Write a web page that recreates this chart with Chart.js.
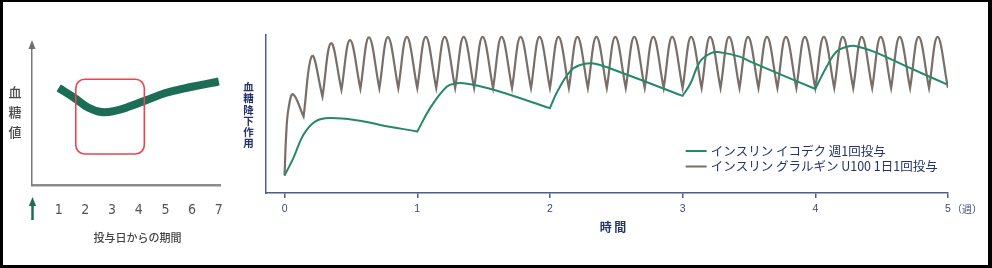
<!DOCTYPE html>
<html lang="ja">
<head>
<meta charset="utf-8">
<script src="https://cdn.jsdelivr.net/npm/chart.js@4.4.1/dist/chart.umd.min.js"></script>
<style>
  html, body { margin: 0; padding: 0; background: #fff; }
  #wrap { position: relative; width: 992px; height: 268px; overflow: hidden; background: #fff; }
  #left { position: absolute; left: 0; top: 0; }
  #right { position: absolute; left: 240px; top: 0; }
  #frame {
    position: absolute; left: 0; top: 0; width: 992px; height: 268px;
    box-sizing: border-box; border: solid #000; border-width: 2px 4px 3px 3px;
    pointer-events: none;
  }
</style>
</head>
<body>
<div id="wrap">
  <canvas id="left" width="240" height="268"></canvas>
  <canvas id="right" width="752" height="268"></canvas>
  <div id="frame"></div>
</div>
<script>
// left panel: concept sketch, days after dosing
const sketchDays = [1.0, 1.6, 2.1, 2.6, 3.1, 3.7, 4.3, 5.0, 5.9, 7.0];
const sketchGlucose = [69.3, 62.1, 55.4, 52.1, 52.9, 56.4, 60.7, 65.7, 69.8, 73.9];
const sketchTicks = [1, 2, 3, 4, 5, 6, 7];
const boxDays = [1.64, 4.21];
const boxGlucose = [22.1, 75.5];

// right panel: glucose lowering effect over weeks
const weekTicks = [0, 1, 2, 3, 4, 5];
const icodecWeeks = [0, 0.066, 0.142, 0.23, 0.34, 0.57, 0.72, 1,
  1.097, 1.222, 1.3, 1.35, 1.45, 1.62, 2,
  2.056, 2.15, 2.227, 2.33, 2.55, 3,
  3.06, 3.13, 3.21, 3.28, 3.43, 3.51, 4,
  4.086, 4.16, 4.24, 4.3, 4.44, 4.69, 5];
const icodecEffect = [11.1, 22.1, 36.8, 45.2, 47.4, 45.7, 43.1, 38.9,
  53.7, 67.3, 69.5, 69.5, 68.0, 64.2, 53.7,
  64.2, 76.8, 81.0, 81.9, 75.8, 61.5,
  69.5, 83.1, 88.4, 89.1, 86.3, 83.1, 65.9,
  80.0, 89.5, 92.6, 93.1, 89.5, 80.0, 68.4];
const icodecDoseWeeks = [1, 2, 3, 4];

// glargine: start-up rise (days), then one peak and one trough per daily dose
const glargineRiseDays = [0, 0.084, 0.21];
const glargineRiseEffect = [11.1, 36.8, 53.7];
const glarginePeakDelay = 0.45; // days after each dose
const glarginePeaks = [62.5, 86.7, 94.8, 96.8, 98.5, 98.7, 98.8,
  98.8, 98.8, 98.8, 98.8, 98.8, 98.8, 98.8,
  98.8, 98.8, 98.8, 98.8, 98.8, 98.8, 98.8,
  98.8, 98.8, 98.8, 98.8, 98.8, 98.8, 98.8,
  98.8, 98.8, 98.8, 98.8, 98.8, 98.8, 98.8];
const glargineTroughs = [48.4, 61.0, 65.3, 65.9, 66.2, 66.3, 66.4,
  66.4, 66.4, 66.4, 66.4, 66.4, 66.4, 66.4,
  66.4, 66.4, 66.4, 66.4, 66.4, 66.4, 66.4,
  66.4, 66.4, 66.4, 66.4, 66.4, 66.4, 66.4,
  66.4, 66.4, 66.4, 66.4, 66.4, 66.4, 66.4];

const CJK = '"Noto Sans CJK JP", "Noto Sans", sans-serif';
const NAVY = '#25336b';
const AXIS_BLUE = '#4e5d91';

// icodec: weekly dose points are doubled so the spline turns sharply there
const icodecData = [];
icodecWeeks.forEach((w, i) => {
  const p = { x: w, y: icodecEffect[i] };
  icodecData.push(p);
  if (icodecDoseWeeks.includes(w)) icodecData.push({ ...p });
});

const glargineData = glargineRiseDays.map((d, i) => ({ x: d / 7, y: glargineRiseEffect[i] }));
glarginePeaks.forEach((peak, k) => {
  glargineData.push({ x: (k + glarginePeakDelay) / 7, y: peak });
  const trough = { x: (k + 1) / 7, y: glargineTroughs[k] };
  glargineData.push(trough, { ...trough });
});

// ---------- left sketch ----------
const leftDecor = {
  id: 'leftDecor',
  afterDraw(chart) {
    const { ctx, scales: { x, y }, chartArea } = chart;
    ctx.save();
    // arrow head on the y axis
    ctx.fillStyle = '#6f6f6f';
    ctx.beginPath();
    ctx.moveTo(chartArea.left, 40);
    ctx.lineTo(chartArea.left - 3.5, 49);
    ctx.lineTo(chartArea.left + 3.5, 49);
    ctx.closePath();
    ctx.fill();

    // dosing arrow under day 0
    const ax = x.getPixelForValue(0) + 0.5;
    ctx.strokeStyle = '#1b6d56';
    ctx.fillStyle = '#1b6d56';
    ctx.lineWidth = 2.5;
    ctx.beginPath();
    ctx.moveTo(ax, 220);
    ctx.lineTo(ax, 204);
    ctx.stroke();
    ctx.beginPath();
    ctx.moveTo(ax, 197);
    ctx.lineTo(ax - 3.6, 206);
    ctx.lineTo(ax + 3.6, 206);
    ctx.closePath();
    ctx.fill();

    // red box around the stable period
    const bx0 = x.getPixelForValue(boxDays[0]);
    const bx1 = x.getPixelForValue(boxDays[1]);
    const by0 = y.getPixelForValue(boxGlucose[1]);
    const by1 = y.getPixelForValue(boxGlucose[0]);
    ctx.strokeStyle = '#e8454e';
    ctx.lineWidth = 1.6;
    ctx.beginPath();
    ctx.roundRect(bx0, by0, bx1 - bx0, by1 - by0, 9);
    ctx.stroke();

    // vertical y label
    ctx.fillStyle = '#4a4a4a';
    ctx.font = '500 13px ' + CJK;
    ctx.textAlign = 'center';
    ctx.textBaseline = 'middle';
    ['血', '糖', '値'].forEach((ch, i) => ctx.fillText(ch, 15, 92 + i * 20));
    ctx.restore();
  }
};

new Chart(document.getElementById('left'), {
  type: 'line',
  data: {
    datasets: [{
      data: sketchDays.map((d, i) => ({ x: d, y: sketchGlucose[i] })),
      borderColor: '#1b6d56',
      borderWidth: 8,
      borderCapStyle: 'butt',
      tension: 0.4,
      pointRadius: 0
    }]
  },
  options: {
    responsive: false,
    animation: false,
    layout: { padding: { left: 32, right: 17, top: 45, bottom: 0 } },
    plugins: { legend: { display: false }, tooltip: { enabled: false } },
    scales: {
      x: {
        type: 'linear',
        min: 0,
        max: 7.08,
        afterBuildTicks: (s) => { s.ticks = sketchTicks.map((v) => ({ value: v })); },
        afterFit: (s) => { s.height = 83; },
        grid: { display: false, drawTicks: false },
        border: { display: true, color: '#8c8c8c', width: 2.5 },
        ticks: {
          color: '#555',
          font: { family: '"Liberation Sans Narrow", "DejaVu Sans Condensed", "Liberation Sans", sans-serif', size: 14 },
          padding: 17,
          autoSkip: false,
          maxRotation: 0
        },
        title: {
          display: true,
          // leading ideographic spaces nudge the centred title to the right
          text: '\u3000\u3000投与日からの期間',
          color: '#444',
          font: { family: CJK, size: 11, weight: '500' },
          padding: { top: 0, bottom: 24 }
        }
      },
      y: {
        min: 0,
        max: 100,
        afterFit: (s) => { s.width = 0; },
        grid: { display: false, drawTicks: false },
        ticks: { display: false },
        border: { display: true, color: '#777', width: 1.5 }
      }
    }
  },
  plugins: [leftDecor]
});

// ---------- right chart ----------
const rightDecor = {
  id: 'rightDecor',
  afterDraw(chart) {
    const { ctx, scales: { x } } = chart;
    ctx.save();
    ctx.textBaseline = 'middle';

    // stacked vertical y label
    ctx.fillStyle = NAVY;
    ctx.font = 'bold 10.5px ' + CJK;
    ctx.textAlign = 'center';
    ['血', '糖', '降', '下', '作', '用'].forEach((ch, i) => ctx.fillText(ch, 8.5, 87 + i * 11.3));

    // unit after the last week tick
    ctx.fillStyle = '#3d4b7d';
    ctx.font = '10px ' + CJK;
    ctx.textAlign = 'left';
    ctx.fillText('（週）', x.getPixelForValue(5) + 4, 209);

    // legend inside the plot
    const lx = x.getPixelForValue(3) + 3;
    chart.data.datasets.forEach((ds, i) => {
      const ly = 151 + i * 15.5;
      ctx.strokeStyle = ds.borderColor;
      ctx.lineWidth = 2;
      ctx.beginPath();
      ctx.moveTo(lx, ly);
      ctx.lineTo(lx + 21, ly);
      ctx.stroke();
      ctx.fillStyle = NAVY;
      ctx.font = '12.5px ' + CJK;
      ctx.fillText(ds.label, lx + 25, ly);
    });
    ctx.restore();
  }
};

new Chart(document.getElementById('right'), {
  type: 'line',
  data: {
    datasets: [
      {
        label: 'インスリン イコデク 週1回投与',
        data: icodecData,
        borderColor: '#23896a',
        borderWidth: 2,
        tension: 0.4,
        pointRadius: 0,
        order: 0
      },
      {
        label: 'インスリン グラルギン U100 1日1回投与',
        data: glargineData,
        borderColor: '#786f6a',
        borderWidth: 2.2,
        tension: 0.4,
        pointRadius: 0,
        order: 1
      }
    ]
  },
  options: {
    responsive: false,
    animation: false,
    layout: { padding: { left: 26, right: 44, top: 35, bottom: 0 } },
    plugins: { legend: { display: false }, tooltip: { enabled: false } },
    scales: {
      x: {
        type: 'linear',
        min: -0.14,
        max: 5,
        afterBuildTicks: (s) => { s.ticks = weekTicks.map((v) => ({ value: v })); },
        afterFit: (s) => { s.height = 75; },
        grid: { display: true, drawOnChartArea: false, drawTicks: true, tickLength: 5, color: AXIS_BLUE, lineWidth: 1.5 },
        border: { display: true, color: AXIS_BLUE, width: 1.5 },
        ticks: {
          color: '#3d4b7d',
          font: { family: '"Liberation Sans", Arial, sans-serif', size: 10.5 },
          padding: 5,
          autoSkip: false,
          maxRotation: 0
        },
        title: {
          display: true,
          text: '\u3000時 間',
          color: NAVY,
          font: { family: CJK, size: 12, weight: 'bold' },
          padding: { top: 0, bottom: 33 }
        }
      },
      y: {
        min: 0,
        max: 100,
        afterFit: (s) => { s.width = 0; },
        grid: { display: false, drawTicks: false },
        ticks: { display: false },
        border: { display: true, color: AXIS_BLUE, width: 1.5 }
      }
    }
  },
  plugins: [rightDecor]
});
</script>
</body>
</html>
